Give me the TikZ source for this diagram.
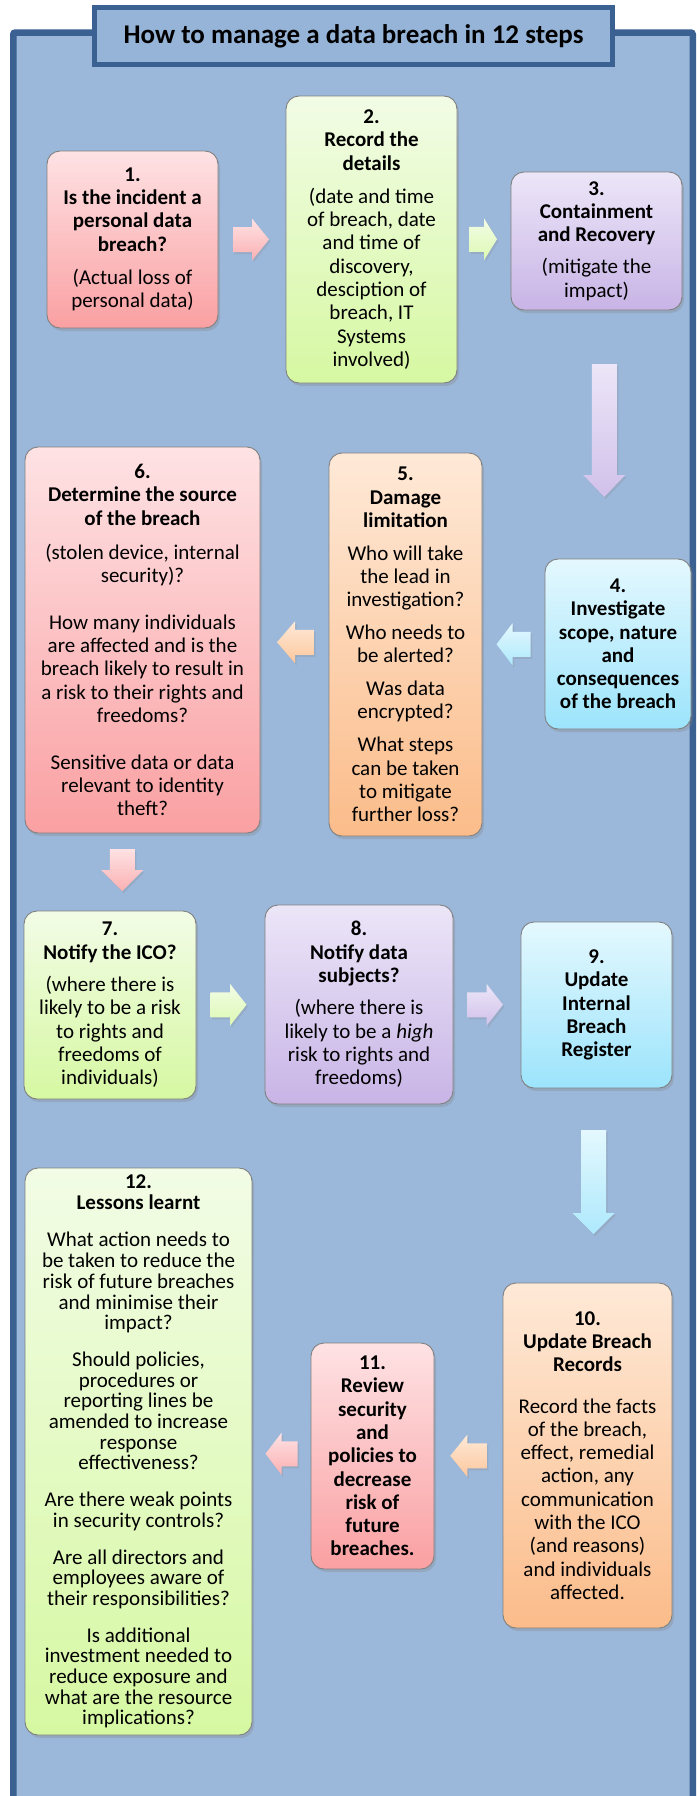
\documentclass[tikz,border=0pt]{standalone}
\usepackage{fontspec}
\setmainfont{Carlito}
\usetikzlibrary{shadows,calc}
\definecolor{bgblue}{RGB}{155,184,218}
\definecolor{titleblue}{RGB}{150,180,215}
\definecolor{frameblue}{RGB}{59,96,146}
\definecolor{pinkT}{RGB}{254,226,228}
\definecolor{pinkB}{RGB}{250,160,162}
\definecolor{greenT}{RGB}{242,252,230}
\definecolor{greenB}{RGB}{214,248,162}
\definecolor{purpleT}{RGB}{236,230,248}
\definecolor{purpleB}{RGB}{200,180,230}
\definecolor{cyanT}{RGB}{228,248,254}
\definecolor{cyanB}{RGB}{156,228,252}
\definecolor{orangeT}{RGB}{254,233,215}
\definecolor{orangeB}{RGB}{251,188,138}
\colorlet{pinkA}{pinkB!75!pinkT}
\colorlet{greenA}{greenB!75!greenT}
\colorlet{purpleA}{purpleB!75!purpleT}
\colorlet{cyanA}{cyanB!75!cyanT}
\colorlet{orangeA}{orangeB!75!orangeT}
\tikzset{
  stepbox/.style={draw=black!50, line width=0.9pt, rounded corners=13pt, align=center,
    inner sep=2pt, font=\fontsize{21}{23.3}\selectfont, text=black,
    drop shadow={shadow xshift=2pt, shadow yshift=-3pt, opacity=0.28}},
  pinkbox/.style={stepbox, top color=pinkT, bottom color=pinkB},
  greenbox/.style={stepbox, top color=greenT, bottom color=greenB},
  purplebox/.style={stepbox, top color=purpleT, bottom color=purpleB},
  cyanbox/.style={stepbox, top color=cyanT, bottom color=cyanB},
  orangebox/.style={stepbox, top color=orangeT, bottom color=orangeB},
  blockarrow/.style={draw=none, drop shadow={shadow xshift=1.5pt, shadow yshift=-2pt, opacity=0.22}},
  titlebox/.style={draw=frameblue, line width=5pt, fill=titleblue, inner sep=0pt,
    font=\fontsize{27}{32}\selectfont\bfseries, text=black},
}
% right-pointing, left-pointing and down-pointing block arrows centred on a coordinate
\newcommand\BlkArrR[4]{\path[blockarrow, top color=#4T, bottom color=#4A, shift={(#1)}]
  ({-#2/2},-12.5) -- ({#2/2-#3},-12.5) -- ({#2/2-#3},-21) -- ({#2/2},0) -- ({#2/2-#3},21)
  -- ({#2/2-#3},12.5) -- ({-#2/2},12.5) -- cycle;}
\newcommand\BlkArrL[4]{\path[blockarrow, top color=#4T, bottom color=#4A, shift={(#1)}]
  ({#2/2},-12.5) -- ({-#2/2+#3},-12.5) -- ({-#2/2+#3},-21) -- ({-#2/2},0) -- ({-#2/2+#3},21)
  -- ({-#2/2+#3},12.5) -- ({#2/2},12.5) -- cycle;}
\newcommand\BlkArrD[4]{\path[blockarrow, top color=#4T, bottom color=#4A, shift={(#1)}]
  (-12.5,{-#2/2}) -- (12.5,{-#2/2}) -- (12.5,{#2/2-#3}) -- (21,{#2/2-#3}) -- (0,{#2/2})
  -- (-21,{#2/2-#3}) -- (-12.5,{#2/2-#3}) -- cycle;}
\begin{document}
\begin{tikzpicture}[x=1pt,y=-1pt]
\useasboundingbox (0,0) rectangle (696,1796);
\fill[white] (0,0) rectangle (696,1796);
% outer frame
\draw[frameblue, line width=6.5pt, fill=bgblue, rounded corners=2pt] (13.25,32.5) rectangle (692.75,1830);
% title
\node[titlebox, minimum width=518pt, minimum height=57pt] (title) at (353.5,36) {How to manage a data breach in 12 steps};

% row 1
\node[pinkbox, minimum width=171pt, minimum height=177pt] (b1) at (132.5,239.5)
 {\textbf{1.}\\\textbf{Is the incident a}\\\textbf{personal data}\\\textbf{breach?}\\[10pt](Actual loss of\\personal data)};
\node[greenbox, minimum width=171pt, minimum height=287pt] (b2) at (371.5,239.5)
 {\textbf{2.}\\\textbf{Record the}\\\textbf{details}\\[10pt](date and time\\of breach, date\\and time of\\discovery,\\desciption of\\breach, IT\\Systems\\involved)};
\node[purplebox, minimum width=171pt, minimum height=138pt] (b3) at (596.5,241)
 {\textbf{3.}\\\textbf{Containment}\\\textbf{and Recovery}\\[9pt](mitigate the\\impact)};

% row 2
\node[cyanbox, minimum width=146pt, minimum height=170pt] (b4) at (618,644)
 {\textbf{4.}\\\textbf{Investigate}\\\textbf{scope, nature}\\\textbf{and}\\\textbf{consequences}\\\textbf{of the breach}};
\node[orangebox, minimum width=153pt, minimum height=383pt] (b5) at (405.5,644.5)
 {\textbf{5.}\\\textbf{Damage}\\\textbf{limitation}\\[9.5pt]Who will take\\the lead in\\investigation?\\[9.5pt]Who needs to\\be alerted?\\[9.5pt]Was data\\encrypted?\\[9.5pt]What steps\\can be taken\\to mitigate\\further loss?};
\node[pinkbox, minimum width=235pt, minimum height=386pt] (b6) at (142.5,640)
 {\textbf{6.}\\\textbf{Determine the source}\\\textbf{of the breach}\\[11pt](stolen device, internal\\security)?\\[23.3pt]How many individuals\\are affected and is the\\breach likely to result in\\a risk to their rights and\\freedoms?\\[23.3pt]Sensitive data or data\\relevant to identity\\theft?};

% row 3
\node[greenbox, minimum width=172pt, minimum height=188pt] (b7) at (110,1005)
 {\textbf{7.}\\\textbf{Notify the ICO?}\\[9pt](where there is\\likely to be a risk\\to rights and\\freedoms of\\individuals)};
\node[purplebox, minimum width=188pt, minimum height=199pt] (b8) at (359,1004.5)
 {\textbf{8.}\\\textbf{Notify data}\\\textbf{subjects?}\\[9pt](where there is\\likely to be a \emph{high}\\risk to rights and\\freedoms)};
\node[cyanbox, minimum width=151pt, minimum height=166pt] (b9) at (596.5,1005)
 {\textbf{9.}\\\textbf{Update}\\\textbf{Internal}\\\textbf{Breach}\\\textbf{Register}};

% row 4
\node[orangebox, minimum width=169pt, minimum height=345pt] (b10) at (587.5,1455.5)
 {\textbf{10.}\\\textbf{Update Breach}\\\textbf{Records}\\[18pt]Record the facts\\of the breach,\\effect, remedial\\action, any\\communication\\with the ICO\\(and reasons)\\and individuals\\affected.};
\node[pinkbox, minimum width=123pt, minimum height=226pt] (b11) at (372.5,1456)
 {\textbf{11.}\\\textbf{Review}\\\textbf{security}\\\textbf{and}\\\textbf{policies to}\\\textbf{decrease}\\\textbf{risk of}\\\textbf{future}\\\textbf{breaches.}};
\node[greenbox, minimum width=227pt, minimum height=567pt, font=\fontsize{21}{20.7}\selectfont] (b12) at (138.5,1451.5)
 {\textbf{12.}\\\textbf{Lessons learnt}\\[17pt]What action needs to\\be taken to reduce the\\risk of future breaches\\and minimise their\\impact?\\[16pt]Should policies,\\procedures or\\reporting lines be\\amended to increase\\response\\effectiveness?\\[16pt]Are there weak points\\in security controls?\\[16pt]Are all directors and\\employees aware of\\their responsibilities?\\[16pt]Is additional\\investment needed to\\reduce exposure and\\what are the resource\\implications?};

% connector arrows
\coordinate (a12) at ($(b1.east)!0.5!(b2.west)+(-1,0)$);
\coordinate (a23) at ($(b2.east)!0.5!(b3.west)+(-1,-1)$);
\coordinate (a34) at ($(b3.south)!0.5!(b4.north)+(-3,-4)$);
\coordinate (a45) at ($(b4.west)!0.5!(b5.east)$);
\coordinate (a56) at ($(b5.west)!0.5!(b6.east)+(1,0)$);
\coordinate (a67) at ($(b6.south)!0.5!(b7.north)+(-4,-2)$);
\coordinate (a78) at ($(b7.east)!0.5!(b8.west)+(-2,0)$);
\coordinate (a89) at ($(b8.east)!0.5!(b9.west)+(-2,0)$);
\coordinate (a910) at ($(b9.south)!0.5!(b10.north)+(1.5,-3.5)$);
\coordinate (a1011) at ($(b10.west)!0.5!(b11.east)$);
\coordinate (a1112) at ($(b11.west)!0.5!(b12.east)$);
\BlkArrR{a12}{36}{17}{pink}
\BlkArrR{a23}{28}{13}{green}
\BlkArrD{a34}{133}{22}{purple}
\BlkArrL{a45}{34}{16}{cyan}
\BlkArrL{a56}{37}{18}{orange}
\BlkArrD{a67}{42}{21}{pink}
\BlkArrR{a78}{36}{16.5}{green}
\BlkArrR{a89}{36}{16.5}{purple}
\BlkArrD{a910}{104}{21}{cyan}
\BlkArrL{a1011}{36.5}{17}{orange}
\BlkArrL{a1112}{32}{16}{pink}
\end{tikzpicture}
\end{document}
